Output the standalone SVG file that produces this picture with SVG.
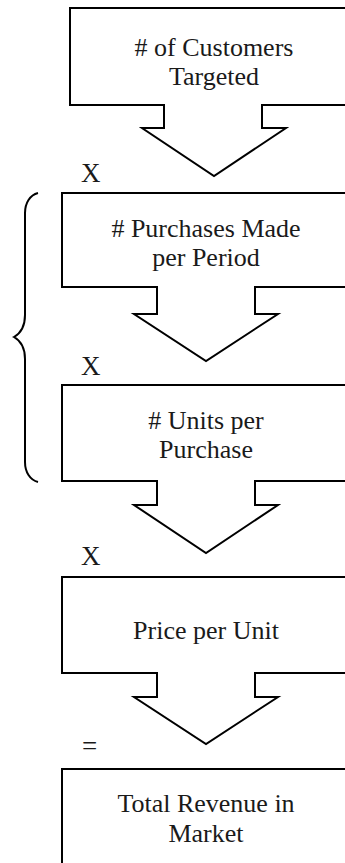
<svg xmlns="http://www.w3.org/2000/svg" width="345" height="863" viewBox="0 0 345 863">
<style>
.shape{fill:#fff;stroke:#000;stroke-width:2;stroke-linejoin:miter}
.t{font-family:'Liberation Serif','DejaVu Serif','Times New Roman',serif;font-size:26px;fill:#1a1a1a;text-anchor:middle}
.op{font-family:'Liberation Serif','DejaVu Serif','Times New Roman',serif;font-size:27px;fill:#1a1a1a}
.brace{fill:none;stroke:#000;stroke-width:2}
</style>
<rect width="345" height="863" fill="#fff"/>
<g id="node1">
<path class="shape" d="M360,8 H70 V105 H164 V128 H142 L214,176 L286,128 H262 V105 H360"/>
<text class="t" x="214" y="56"># of Customers</text>
<text class="t" x="214" y="85">Targeted</text>
</g>
<g id="node2">
<path class="shape" d="M360,193 H62 V287 H157 V314 H134 L206,361 L278,314 H255 V287 H360"/>
<text class="t" x="206" y="237"># Purchases Made</text>
<text class="t" x="206" y="266">per Period</text>
</g>
<g id="node3">
<path class="shape" d="M360,385 H62 V481 H157 V505 H134 L206,553 L278,505 H255 V481 H360"/>
<text class="t" x="206" y="429"># Units per</text>
<text class="t" x="206" y="458">Purchase</text>
</g>
<g id="node4">
<path class="shape" d="M360,577 H62 V673 H157 V697 H134 L206,744 L278,697 H255 V673 H360"/>
<text class="t" x="206" y="639">Price per Unit</text>
</g>
<g id="node5">
<path class="shape" d="M360,769 H62 V875"/>
<text class="t" x="206" y="812">Total Revenue in</text>
<text class="t" x="206" y="842">Market</text>
</g>
<g id="connectors">
<text class="op" x="81" y="182">X</text>
<text class="op" x="81" y="375">X</text>
<text class="op" x="81" y="565">X</text>
<text class="op" x="82" y="755">=</text>
<path class="brace" d="M38,193 C30,195 25,203 25,213 V315 C25,325 21,333 14,337 C21,341 25,349 25,359 V462 C25,472 30,480 38,482"/>
</g>
</svg>
